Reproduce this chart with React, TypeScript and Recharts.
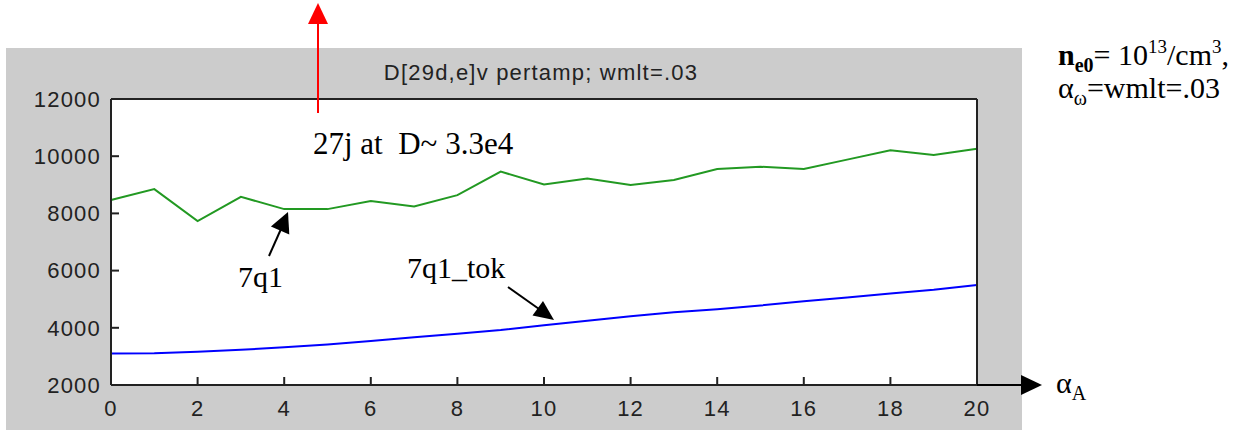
import React from 'react';
import { LineChart, Line, XAxis, YAxis, CartesianGrid } from 'recharts';

const alphaA = [0, 1, 2, 3, 4, 5, 6, 7, 8, 9, 10, 11, 12, 13, 14, 15, 16, 17, 18, 19, 20];
const q1 = [8470, 8850, 7730, 8580, 8150, 8150, 8430, 8240, 8640, 9460, 9010, 9220, 8990, 9170, 9550, 9630, 9550, 9880, 10210, 10040, 10260];
const q1Tok = [3100, 3110, 3160, 3230, 3320, 3420, 3540, 3670, 3790, 3920, 4090, 4250, 4400, 4540, 4650, 4780, 4930, 5060, 5200, 5330, 5500];
const xTicks = [0, 2, 4, 6, 8, 10, 12, 14, 16, 18, 20];
const yTicks = [2000, 4000, 6000, 8000, 10000, 12000];
const title = 'D[29d,e]v pertamp; wmlt=.03';

const data = alphaA.map((a, i) => ({ a, q1: q1[i], tok: q1Tok[i] }));

const W = 1246;
const H = 431;
const axisColor = '#222';
const sans = '"Liberation Sans", Arial, Helvetica, sans-serif';
const serif = '"Liberation Serif", "Times New Roman", serif';
const tickFont = { fontSize: 22, fontFamily: sans, fill: '#222', letterSpacing: 1.2 };
const axisLineStyle = { stroke: axisColor, strokeWidth: 2 };

export default function App() {
  return (
    <div style={{ position: 'absolute', left: 0, top: 0, width: W, height: H, background: '#fff', overflow: 'hidden' }}>
      <div style={{ position: 'absolute', left: 6, top: 48, width: 1016, height: 382, background: '#cccccc' }} />
      <div style={{ position: 'absolute', left: 0, top: 0 }}>
        <LineChart width={W} height={H} data={data} margin={{ top: 89, right: 259, bottom: 16, left: 51 }}>
          <CartesianGrid horizontal={false} vertical={false} fill="#ffffff" />
          <XAxis
            dataKey="a"
            type="number"
            domain={[0, 20]}
            ticks={xTicks}
            interval={0}
            height={30}
            tickSize={-8}
            tickMargin={23}
            axisLine={axisLineStyle}
            tickLine={axisLineStyle}
            tick={tickFont}
          />
          <XAxis
            xAxisId="top"
            orientation="top"
            dataKey="a"
            type="number"
            domain={[0, 20]}
            ticks={xTicks}
            interval={0}
            height={10}
            tickSize={-8}
            axisLine={axisLineStyle}
            tickLine={axisLineStyle}
            tick={false}
          />
          <YAxis
            type="number"
            domain={[2000, 12000]}
            ticks={yTicks}
            interval={0}
            width={60}
            tickSize={-8}
            tickMargin={18}
            axisLine={axisLineStyle}
            tickLine={axisLineStyle}
            tick={tickFont}
          />
          <YAxis
            yAxisId="right"
            orientation="right"
            type="number"
            domain={[2000, 12000]}
            ticks={yTicks}
            interval={0}
            width={10}
            tickSize={-8}
            axisLine={axisLineStyle}
            tickLine={axisLineStyle}
            tick={false}
          />
          <Line type="linear" dataKey="q1" stroke="#229922" strokeWidth={2} dot={false} isAnimationActive={false} />
          <Line type="linear" dataKey="tok" stroke="#0000ff" strokeWidth={2} dot={false} isAnimationActive={false} />
        </LineChart>
      </div>
      <svg width={W} height={H} style={{ position: 'absolute', left: 0, top: 0, pointerEvents: 'none' }}>
        <text x={541} y={80} textAnchor="middle" fontFamily={sans} fontSize={22} fill="#222" letterSpacing={1.2}>{title}</text>
        {/* red arrow */}
        <line x1={318} y1={113} x2={318} y2={22} stroke="#ff0000" strokeWidth={2} />
        <polygon points="308,24 328,24 318,3" fill="#ff0000" />
        <text x={313} y={154} fontFamily={serif} fontSize={31} fill="#000" style={{ whiteSpace: 'pre' }}>{'27j at  D~ 3.3e4'}</text>
        {/* 7q1 */}
        <text x={238} y={287} fontFamily={serif} fontSize={30} fill="#000">7q1</text>
        <line x1={269} y1={256} x2={281} y2={229} stroke="#000" strokeWidth={2} />
        <polygon points="288,212 270.9,226.4 289.3,234.4" fill="#000" />
        {/* 7q1_tok */}
        <text x={407} y={278} fontFamily={serif} fontSize={30} fill="#000">7q1_tok</text>
        <line x1={508} y1={287} x2={539} y2={309} stroke="#000" strokeWidth={2} />
        <polygon points="554,320 532.5,315.6 543,301" fill="#000" />
        {/* x-axis arrow */}
        <line x1={977} y1={385} x2={1024} y2={385} stroke="#000" strokeWidth={2} />
        <polygon points="1021,375 1021,395 1042,385" fill="#000" />
        <text x={1056} y={393} fontFamily={serif} fontSize={30} fill="#000">
          α<tspan fontSize={20} dy={7}>A</tspan>
        </text>
        {/* right notes */}
        <text x={1058} y={65} fontFamily={serif} fontSize={30} fill="#000">
          <tspan fontWeight="bold">n</tspan>
          <tspan fontWeight="bold" fontSize={20} dy={7}>e0</tspan>
          <tspan dy={-7}>= 10</tspan>
          <tspan fontSize={19} dy={-12}>13</tspan>
          <tspan dy={12}>/cm</tspan>
          <tspan fontSize={19} dy={-12}>3</tspan>
          <tspan dy={12}>,</tspan>
        </text>
        <text x={1058} y={98} fontFamily={serif} fontSize={30} fill="#000">
          α<tspan fontSize={20} dy={7}>ω</tspan>
          <tspan dy={-7}>=wmlt=.03</tspan>
        </text>
      </svg>
    </div>
  );
}
